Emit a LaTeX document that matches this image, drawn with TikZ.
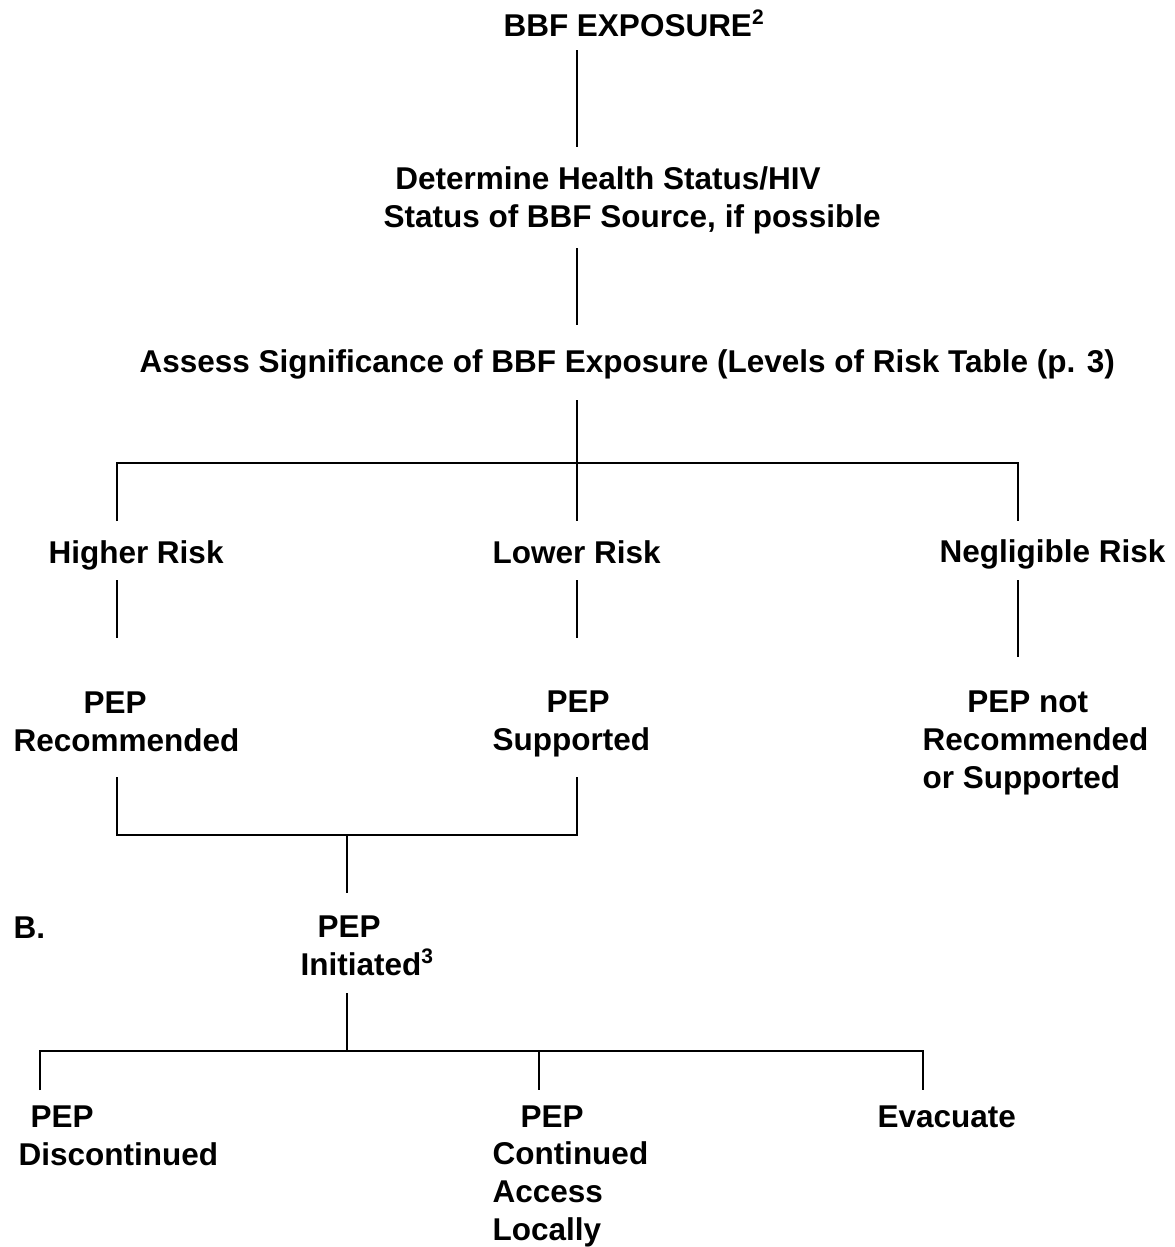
\documentclass[tikz,border=0pt]{standalone}
\usepackage{fontspec}
\setmainfont{Liberation Sans}

\begin{document}
\begin{tikzpicture}[x=0.381pt, y=-0.381pt,
    lbl/.style={anchor=base west, inner sep=0pt, align=left,
                font=\fontsize{12pt}{14.3pt}\selectfont\bfseries},
    conn/.style={line width=0.8pt}]
    \useasboundingbox (0,0) rectangle (1175,1247);

    % Part A texts (placed at the baseline of their last line)
    \node[lbl] (bbf) at (503,36) {BBF EXPOSURE\textsuperscript{2}};
    \node[lbl] (health) at (383,227) {\hspace*{4.5pt}Determine Health Status/HIV\\Status of BBF Source, if possible};
    \node[lbl] (assess) at (139,372) {Assess Significance of BBF Exposure (Levels of Risk Table (p. 3)};
    \node[lbl] (higher) at (48,563) {Higher Risk};
    \node[lbl] (lower) at (492,563) {Lower Risk};
    \node[lbl] (neglig) at (939,562) {Negligible Risk};
    \node[lbl] (pepRec) at (13,751) {\hspace*{26.7pt}PEP\\Recommended};
    \node[lbl] (pepSup) at (492,750) {\hspace*{20.6pt}PEP\\Supported};
    \node[lbl] (pepNot) at (922,788) {\hspace*{17.1pt}PEP not\\Recommended\\or Supported};

    % Part B texts
    \node[lbl] (partB) at (13,938) {B.};
    \node[lbl] (pepInit) at (300,975) {\hspace*{6.5pt}PEP\\Initiated\textsuperscript{3}};
    \node[lbl] (pepDisc) at (18,1165) {\hspace*{4.6pt}PEP\\Discontinued};
    \node[lbl] (pepCont) at (492,1240) {\hspace*{10.7pt}PEP\\Continued\\Access\\Locally};
    \node[lbl] (evac) at (877,1127) {Evacuate};

    % Line ends and junctions
    \coordinate (top1) at (577,50);   \coordinate (top2) at (577,147);
    \coordinate (mid1) at (577,248);  \coordinate (mid2) at (577,325);
    \coordinate (split) at (577,400); \coordinate (jMid) at (577,463);
    \coordinate (jLeft) at (117,463); \coordinate (jRight) at (1018,463);
    \coordinate (dLeft) at (117,521); \coordinate (dMid) at (577,521);
    \coordinate (dRight) at (1018,521);
    \coordinate (hr1) at (117,580);   \coordinate (hr2) at (117,638);
    \coordinate (lr1) at (577,580);   \coordinate (lr2) at (577,638);
    \coordinate (nr1) at (1018,580);  \coordinate (nr2) at (1018,657);
    \coordinate (rec1) at (117,777);  \coordinate (rec2) at (117,835);
    \coordinate (sup1) at (577,777);  \coordinate (sup2) at (577,835);
    \coordinate (merge) at (347,835); \coordinate (merge2) at (347,893);
    \coordinate (init1) at (347,993); \coordinate (jBot) at (347,1051);
    \coordinate (jDisc) at (40,1051); \coordinate (jCont) at (539,1051);
    \coordinate (jEvac) at (923,1051);
    \coordinate (dDisc) at (40,1090); \coordinate (dCont) at (539,1090);
    \coordinate (dEvac) at (923,1090);

    % Connectors, part A
    \draw[conn] (top1) -- (top2);
    \draw[conn] (mid1) -- (mid2);
    \draw[conn] (split) -- (dMid);
    \draw[conn] (dLeft) -- (jLeft) -- (jRight) -- (dRight);
    \draw[conn] (hr1) -- (hr2);
    \draw[conn] (lr1) -- (lr2);
    \draw[conn] (nr1) -- (nr2);
    \draw[conn] (rec1) -- (rec2) -- (sup2) -- (sup1);
    \draw[conn] (merge) -- (merge2);

    % Connectors, part B
    \draw[conn] (init1) -- (jBot);
    \draw[conn] (dDisc) -- (jDisc) -- (jEvac) -- (dEvac);
    \draw[conn] (jCont) -- (dCont);
\end{tikzpicture}
\end{document}
